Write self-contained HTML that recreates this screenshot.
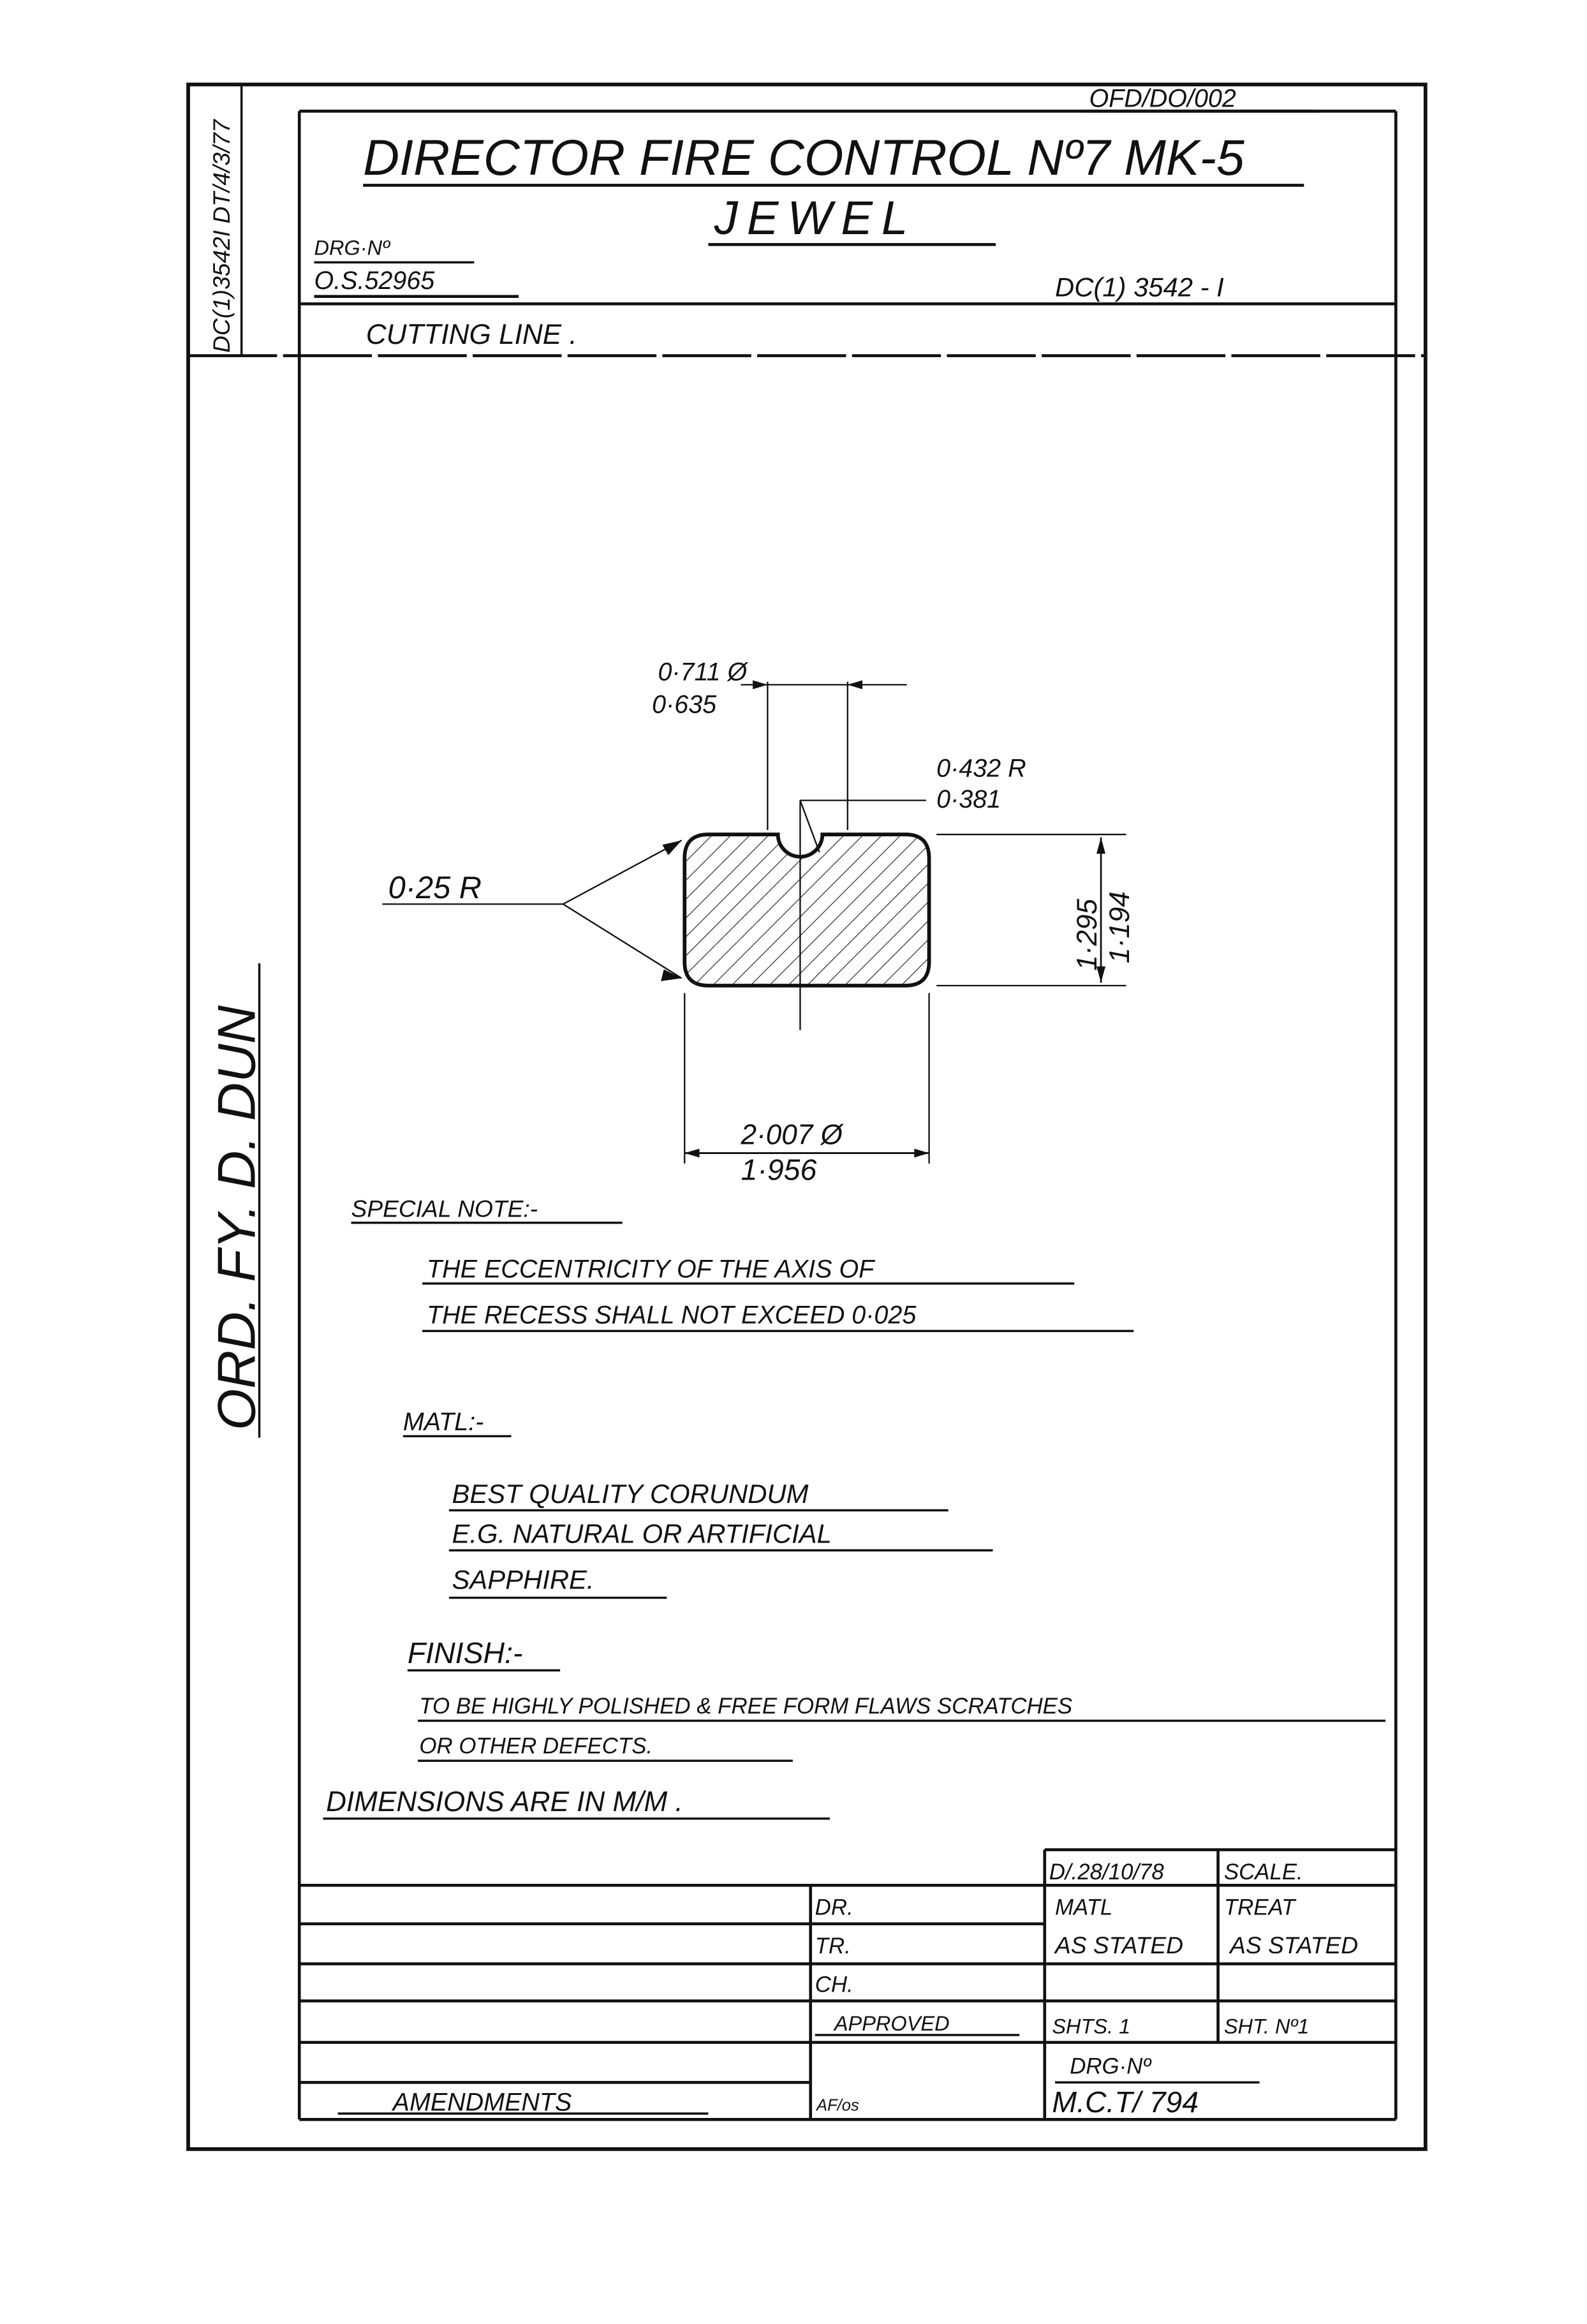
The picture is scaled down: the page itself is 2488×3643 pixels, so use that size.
<!DOCTYPE html>
<html><head><meta charset="utf-8"><style>
html,body{margin:0;padding:0;background:#fff}
svg{display:block}
text{font-family:"Liberation Sans",sans-serif;font-style:italic;fill:#111}
</style></head><body>
<svg width="2488" height="3643" viewBox="0 0 1071 1568" preserveAspectRatio="none" xmlns="http://www.w3.org/2000/svg">
<defs>
<pattern id="h" width="9" height="9" patternUnits="userSpaceOnUse" patternTransform="rotate(45)">
<line x1="0" y1="0" x2="0" y2="9" stroke="#222" stroke-width="1"/></pattern>
</defs>
<g stroke="#111" fill="none">
<rect x="127" y="57" width="835" height="1393" stroke-width="2.5"/>
<line x1="202" y1="75" x2="942" y2="75" stroke-width="2"/>
<line x1="202" y1="75" x2="202" y2="1430" stroke-width="2"/>
<line x1="942" y1="75" x2="942" y2="1430" stroke-width="2"/>
<line x1="202" y1="1430" x2="942" y2="1430" stroke-width="2"/>
<line x1="202" y1="205" x2="942" y2="205" stroke-width="2"/>
<line x1="127" y1="240" x2="962" y2="240" stroke-width="2" stroke-dasharray="60 4"/>
<line x1="163" y1="57" x2="163" y2="240" stroke-width="1.5"/>
<!-- title underlines -->
<line x1="245" y1="125" x2="880" y2="125" stroke-width="2"/>
<line x1="478" y1="165" x2="672" y2="165" stroke-width="2"/>
<line x1="212" y1="177" x2="320" y2="177" stroke-width="1.5"/>
<line x1="212" y1="200" x2="350" y2="200" stroke-width="2"/>
<line x1="730" y1="75" x2="890" y2="75" stroke-width="2"/>
<line x1="175" y1="970" x2="175" y2="650" stroke-width="1.5"/>
<!-- title block -->
<line x1="705" y1="1248" x2="942" y2="1248" stroke-width="2"/>
<line x1="202" y1="1272" x2="942" y2="1272" stroke-width="2"/>
<line x1="202" y1="1298" x2="705" y2="1298" stroke-width="2"/>
<line x1="202" y1="1325" x2="942" y2="1325" stroke-width="2"/>
<line x1="202" y1="1350" x2="942" y2="1350" stroke-width="2"/>
<line x1="202" y1="1378" x2="942" y2="1378" stroke-width="2"/>
<line x1="202" y1="1405" x2="547" y2="1405" stroke-width="2"/>
<line x1="547" y1="1272" x2="547" y2="1430" stroke-width="2"/>
<line x1="705" y1="1248" x2="705" y2="1430" stroke-width="2"/>
<line x1="822" y1="1248" x2="822" y2="1378" stroke-width="2"/>
<line x1="228" y1="1426" x2="478" y2="1426" stroke-width="1.5"/>
<line x1="550" y1="1373" x2="688" y2="1373" stroke-width="1.5"/>
<line x1="712" y1="1405" x2="850" y2="1405" stroke-width="1.5"/>
<!-- part -->
<path d="M478 563 H525 A15 15 0 0 0 555 563 H611 Q627 563 627 579 V649 Q627 665 611 665 H478 Q462 665 462 649 V579 Q462 563 478 563 Z" fill="url(#h)" stroke-width="2.5"/>
<line x1="540" y1="540" x2="540" y2="695" stroke-width="1"/>
<line x1="518" y1="460" x2="518" y2="560" stroke-width="1"/>
<line x1="572" y1="460" x2="572" y2="560" stroke-width="1"/>
<line x1="500" y1="462" x2="612" y2="462" stroke-width="1"/>
<line x1="540" y1="540" x2="625" y2="540" stroke-width="1"/>
<line x1="540" y1="540" x2="553" y2="575" stroke-width="1"/>
<line x1="632" y1="563" x2="760" y2="563" stroke-width="1"/>
<line x1="632" y1="665" x2="760" y2="665" stroke-width="1"/>
<line x1="743" y1="565" x2="743" y2="663" stroke-width="1.2"/>
<line x1="462" y1="670" x2="462" y2="785" stroke-width="1"/>
<line x1="627" y1="670" x2="627" y2="785" stroke-width="1"/>
<line x1="462" y1="778" x2="627" y2="778" stroke-width="1.2"/>
<line x1="380" y1="610" x2="460" y2="567" stroke-width="1"/>
<line x1="380" y1="610" x2="460" y2="660" stroke-width="1"/>
<line x1="258" y1="610" x2="380" y2="610" stroke-width="1"/>
<!-- note underlines -->
<line x1="237" y1="825" x2="420" y2="825" stroke-width="1.5"/>
<line x1="285" y1="866" x2="725" y2="866" stroke-width="1.5"/>
<line x1="285" y1="898" x2="765" y2="898" stroke-width="1.5"/>
<line x1="272" y1="969" x2="345" y2="969" stroke-width="1.5"/>
<line x1="303" y1="1019" x2="640" y2="1019" stroke-width="1.5"/>
<line x1="303" y1="1046" x2="670" y2="1046" stroke-width="1.5"/>
<line x1="303" y1="1078" x2="450" y2="1078" stroke-width="1.5"/>
<line x1="275" y1="1127" x2="378" y2="1127" stroke-width="1.5"/>
<line x1="282" y1="1161" x2="935" y2="1161" stroke-width="1.5"/>
<line x1="282" y1="1188" x2="535" y2="1188" stroke-width="1.5"/>
<line x1="218" y1="1227" x2="560" y2="1227" stroke-width="1.5"/>
</g>
<g fill="#111">
<polygon points="518,462 508,459 508,465"/><polygon points="572,462 582,459 582,465"/>
<polygon points="460,567 447,570 451,577"/><polygon points="460,660 448,654 446,662"/>
<polygon points="743,565 740,576 746,576"/><polygon points="743,663 740,652 746,652"/>
<polygon points="462,778 472,775 472,781"/><polygon points="627,778 617,775 617,781"/>
</g>
<text x="735" y="72" font-size="17">OFD/DO/002</text>
<text x="245" y="118" font-size="34">DIRECTOR FIRE CONTROL Nº7 MK-5</text>
<text x="482" y="158" font-size="32" letter-spacing="6">JEWEL</text>
<text x="212" y="172" font-size="14">DRG·Nº</text>
<text x="212" y="195" font-size="17">O.S.52965</text>
<text x="712" y="200" font-size="18">DC(1) 3542 - I</text>
<text x="247" y="232" font-size="19">CUTTING LINE .</text>
<text transform="translate(155,238) rotate(-90)" font-size="16" font-style="normal">DC(1)3542I DT/4/3/77</text>
<text transform="translate(172,965) rotate(-90)" font-size="36">ORD. FY. D. DUN</text>
<text x="444" y="459" font-size="17">0·711 Ø</text>
<text x="440" y="481" font-size="17">0·635</text>
<text x="632" y="524" font-size="17">0·432 R</text>
<text x="632" y="545" font-size="17">0·381</text>
<text x="262" y="606" font-size="21">0·25 R</text>
<text transform="translate(740,655) rotate(-90)" font-size="19">1·295</text>
<text transform="translate(762,650) rotate(-90)" font-size="19">1·194</text>
<text x="500" y="772" font-size="19">2·007 Ø</text>
<text x="500" y="796" font-size="20">1·956</text>
<text x="237" y="821" font-size="16">SPECIAL NOTE:-</text>
<text x="288" y="862" font-size="17">THE ECCENTRICITY OF THE AXIS OF</text>
<text x="288" y="893" font-size="17">THE RECESS SHALL NOT EXCEED 0·025</text>
<text x="272" y="965" font-size="17">MATL:-</text>
<text x="305" y="1014" font-size="18">BEST QUALITY CORUNDUM</text>
<text x="305" y="1041" font-size="18">E.G. NATURAL OR ARTIFICIAL</text>
<text x="305" y="1072" font-size="18">SAPPHIRE.</text>
<text x="275" y="1122" font-size="20">FINISH:-</text>
<text x="283" y="1156" font-size="15">TO BE HIGHLY POLISHED &amp; FREE FORM FLAWS SCRATCHES</text>
<text x="283" y="1183" font-size="15">OR OTHER DEFECTS.</text>
<text x="220" y="1222" font-size="19" font-style="normal">DIMENSIONS ARE IN M/M .</text>
<text x="708" y="1268" font-size="15">D/.28/10/78</text>
<text x="826" y="1268" font-size="15" font-style="normal">SCALE.</text>
<text x="550" y="1292" font-size="15">DR.</text>
<text x="712" y="1292" font-size="15">MATL</text>
<text x="826" y="1292" font-size="15">TREAT</text>
<text x="550" y="1318" font-size="15">TR.</text>
<text x="712" y="1318" font-size="16" font-style="normal">AS STATED</text>
<text x="830" y="1318" font-size="16" font-style="normal">AS STATED</text>
<text x="550" y="1344" font-size="15">CH.</text>
<text x="563" y="1370" font-size="14">APPROVED</text>
<text x="710" y="1372" font-size="14">SHTS. 1</text>
<text x="826" y="1372" font-size="14">SHT. Nº1</text>
<text x="722" y="1399" font-size="15">DRG·Nº</text>
<text x="551" y="1424" font-size="11">AF/os</text>
<text x="710" y="1425" font-size="20">M.C.T/ 794</text>
<text x="265" y="1424" font-size="17">AMENDMENTS</text>
</svg>
</body></html>
